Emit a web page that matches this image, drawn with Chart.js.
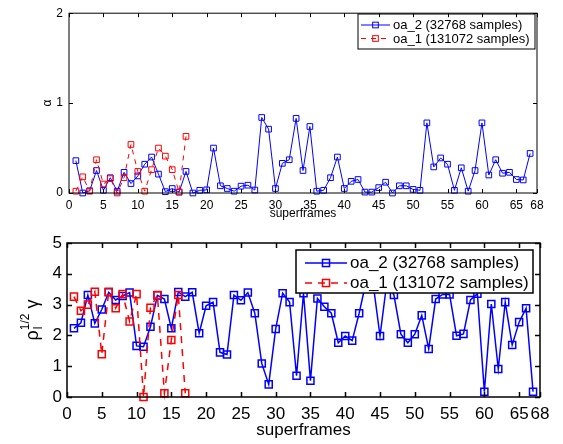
<!DOCTYPE html>
<html>
<head>
<meta charset="utf-8">
<script src="https://cdn.jsdelivr.net/npm/chart.js@4.4.1/dist/chart.umd.min.js"></script>
<style>
  body { margin: 0; background: #fff; }
  canvas { position: absolute; left: 0; }
</style>
</head>
<body>
<canvas id="alphaChart" width="563" height="222" style="top:0px"></canvas>
<canvas id="gammaChart" width="563" height="222" style="top:222px"></canvas>
<script>
var xTicks = [0, 5, 10, 15, 20, 25, 30, 35, 40, 45, 50, 55, 60, 65, 68];
var alphaTicks = [0, 1, 2];
var gammaTicks = [0, 1, 2, 3, 4, 5];
var seriesNames = ['oa_2 (32768 samples)', 'oa_1 (131072 samples)'];

// alpha per superframe (superframe = index + 1)
var alphaOa2 = [0.36, 0.00, 0.025, 0.25, 0.03, 0.17, 0.02, 0.23, 0.105, 0.19,
                0.32, 0.40, 0.21, 0.015, 0.05, 0.01, 0.24, 0.00, 0.03, 0.035,
                0.50, 0.08, 0.05, 0.02, 0.076, 0.087, 0.033, 0.84, 0.71, 0.05,
                0.33, 0.37, 0.83, 0.25, 0.74, 0.02, 0.03, 0.17, 0.40, 0.05,
                0.13, 0.15, 0.01, 0.01, 0.06, 0.12, 0.00, 0.08, 0.08, 0.04,
                0.03, 0.78, 0.29, 0.39, 0.32, 0.03, 0.28, 0.02, 0.25, 0.78,
                0.20, 0.37, 0.22, 0.23, 0.15, 0.145, 0.44];
var alphaOa1 = [0.02, 0.18, 0.02, 0.37, 0.10, 0.16, 0.00, 0.17, 0.54, 0.24,
                0.02, 0.26, 0.50, 0.41, 0.26, 0.01, 0.63];

// rho_l^(1/2) gamma per superframe
var gammaOa2 = [2.23, 2.41, 3.31, 2.39, 2.84, 3.40, 3.15, 3.28, 3.39, 1.66,
                1.63, 2.28, 3.30, 3.18, 2.23, 3.41, 3.26, 3.40, 2.07, 2.96,
                3.08, 1.45, 1.38, 3.31, 3.14, 3.39, 2.72, 1.09, 0.41, 2.21,
                3.37, 3.08, 0.69, 3.37, 0.53, 3.20, 2.93, 2.72, 1.76, 1.98,
                1.83, 2.72, 3.75, 3.70, 1.98, 3.75, 3.31, 2.04, 1.76, 2.04,
                2.65, 1.56, 3.18, 3.33, 3.33, 1.99, 2.05, 3.15, 3.35, 0.17,
                3.02, 0.91, 3.08, 1.69, 2.43, 2.88, 0.17];
var gammaOa1 = [3.26, 2.80, 3.00, 3.42, 1.39, 3.42, 2.88, 3.34, 2.45, 3.34,
                0.00, 2.90, 3.31, 0.12, 1.85, 3.31, 0.12];

var FONT = "'Liberation Sans', Arial, Helvetica, sans-serif";

function points(values) {
  return values.map(function (v, i) { return { x: i + 1, y: v }; });
}

var framePlugin = {
  id: 'frame',
  afterDraw: function (chart, args, opts) {
    var ctx = chart.ctx, a = chart.chartArea;
    var xs = chart.scales.x, ys = chart.scales.y;
    var len = opts.tickLength;
    ctx.save();
    ctx.strokeStyle = '#000';
    ctx.lineWidth = opts.lineWidth;
    ctx.beginPath();
    xs.ticks.forEach(function (t) {
      var px = Math.round(xs.getPixelForValue(t.value)) + 0.5;
      ctx.moveTo(px, a.bottom); ctx.lineTo(px, a.bottom - len);
      ctx.moveTo(px, a.top); ctx.lineTo(px, a.top + len);
    });
    ys.ticks.forEach(function (t) {
      var py = Math.round(ys.getPixelForValue(t.value)) + 0.5;
      ctx.moveTo(a.left, py); ctx.lineTo(a.left + len, py);
      ctx.moveTo(a.right, py); ctx.lineTo(a.right - len, py);
    });
    ctx.stroke();
    ctx.lineWidth = opts.boxWidth;
    ctx.strokeRect(a.left, a.top, a.right - a.left, a.bottom - a.top);
    ctx.restore();
  }
};

var boxLegendPlugin = {
  id: 'boxLegend',
  afterDatasetsDraw: function (chart, args, opts) {
    var ctx = chart.ctx;
    ctx.save();
    ctx.fillStyle = '#fff';
    ctx.fillRect(opts.left, opts.top, opts.width, opts.height);
    ctx.strokeStyle = '#000';
    ctx.lineWidth = opts.borderWidth;
    ctx.strokeRect(opts.left, opts.top, opts.width, opts.height);
    ctx.font = opts.fontSize + 'px ' + FONT;
    ctx.textBaseline = 'middle';
    [0, 1].forEach(function (di, row) {
      var ds = chart.data.datasets[di];
      var y = opts.top + opts.rowStart + row * opts.rowGap;
      ctx.strokeStyle = ds.borderColor;
      ctx.lineWidth = ds.borderWidth;
      ctx.setLineDash(ds.borderDash || []);
      ctx.beginPath();
      ctx.moveTo(opts.lineX0, y); ctx.lineTo(opts.lineX1, y);
      ctx.stroke();
      ctx.setLineDash([]);
      var s = Math.SQRT1_2 * ds.pointRadius;
      var cx = (opts.lineX0 + opts.lineX1) / 2;
      ctx.lineWidth = ds.pointBorderWidth;
      ctx.strokeRect(cx - s, y - s, 2 * s, 2 * s);
      ctx.fillStyle = '#000';
      ctx.fillText(ds.label, opts.textX, y + 0.5);
    });
    ctx.restore();
  }
};

var gammaTitlePlugin = {
  id: 'gammaTitle',
  afterDraw: function (chart, args, opts) {
    var ctx = chart.ctx, a = chart.chartArea;
    var big = opts.size + 'px ' + FONT, small = opts.smallSize + 'px ' + FONT;
    ctx.save();
    ctx.fillStyle = '#000';
    ctx.font = big;
    var wRho = ctx.measureText('\u03c1').width;
    var wGam = ctx.measureText('\u03b3').width;
    var wSpace = ctx.measureText(' ').width;
    ctx.font = small;
    var wSup = ctx.measureText('1/2').width;
    var total = wRho + wSup + wSpace + wGam;
    ctx.translate(opts.x, (a.top + a.bottom) / 2);
    ctx.rotate(-Math.PI / 2);
    ctx.textBaseline = 'alphabetic';
    var x = -total / 2;
    ctx.font = big;
    ctx.fillText('\u03c1', x, 0);
    ctx.font = small;
    ctx.fillText('l', x + wRho + 1, opts.subShift);
    ctx.fillText('1/2', x + wRho, -opts.supShift);
    ctx.font = big;
    ctx.fillText('\u03b3', x + wRho + wSup + wSpace, 0);
    ctx.restore();
  }
};

function makeOptions(cfg) {
  return {
    responsive: false,
    animation: false,
    events: [],
    layout: { padding: { left: 0, top: cfg.top, right: cfg.right, bottom: 0 } },
    plugins: {
      legend: { display: false },
      tooltip: { enabled: false },
      frame: { tickLength: cfg.tickLength, lineWidth: cfg.frameWidth, boxWidth: cfg.frameWidth },
      boxLegend: cfg.legend,
      gammaTitle: cfg.gammaTitle || {}
    },
    scales: {
      x: {
        type: 'linear',
        min: 0,
        max: 68,
        afterBuildTicks: function (s) { s.ticks = xTicks.map(function (v) { return { value: v }; }); },
        afterFit: function (s) { s.height = cfg.xHeight; },
        grid: { display: false, drawTicks: false },
        border: { display: false },
        ticks: { color: '#000', padding: cfg.xPad, maxRotation: 0, autoSkip: false,
                 font: { family: FONT, size: cfg.tickSize } },
        title: { display: true, text: 'superframes', color: '#000',
                 font: { family: FONT, size: cfg.titleSize }, padding: { top: 0, bottom: cfg.titlePad } }
      },
      y: {
        min: 0,
        max: cfg.yMax,
        afterBuildTicks: function (s) { s.ticks = cfg.yTicks.map(function (v) { return { value: v }; }); },
        afterFit: function (s) { s.width = cfg.yWidth; },
        grid: { display: false, drawTicks: false },
        border: { display: false },
        ticks: { color: '#000', padding: cfg.yPad, font: { family: FONT, size: cfg.tickSize } },
        title: cfg.yTitle
      }
    }
  };
}

function makeDatasets(blue, red, w, r, dash) {
  return [{
    label: seriesNames[0],
    data: points(blue),
    borderColor: '#0000ff',
    borderWidth: w,
    pointStyle: 'rect',
    pointRadius: r,
    pointHoverRadius: r,
    pointBorderWidth: w,
    pointBackgroundColor: 'rgba(0,0,0,0)',
    pointBorderColor: '#0000ff',
    clip: false,
    order: 2
  }, {
    label: seriesNames[1],
    data: points(red),
    borderColor: '#ff0000',
    borderWidth: w,
    borderDash: dash,
    pointStyle: 'rect',
    pointRadius: r,
    pointHoverRadius: r,
    pointBorderWidth: w,
    pointBackgroundColor: 'rgba(0,0,0,0)',
    pointBorderColor: '#ff0000',
    clip: false,
    order: 1
  }];
}

var alphaChart = new Chart(document.getElementById('alphaChart').getContext('2d'), {
  type: 'line',
  data: { datasets: makeDatasets(alphaOa2, alphaOa1, 1, 4, [5, 5]) },
  options: makeOptions({
    top: 9, right: 26, xHeight: 29, yWidth: 69, xPad: 5, yPad: 6,
    tickSize: 12, titleSize: 12, titlePad: 1, yMax: 2, yTicks: alphaTicks,
    tickLength: 4, frameWidth: 1,
    yTitle: { display: true, text: '\u03b1', color: '#000',
              font: { family: FONT, size: 12 }, padding: { top: 40, bottom: 0 } },
    legend: { left: 358, top: 14, width: 177, height: 35, borderWidth: 1, fontSize: 13,
              rowStart: 11, rowGap: 13.5, lineX0: 361, lineX1: 390, textX: 393 }
  }),
  plugins: [boxLegendPlugin, framePlugin]
});

var gammaChart = new Chart(document.getElementById('gammaChart').getContext('2d'), {
  type: 'line',
  data: { datasets: makeDatasets(gammaOa2, gammaOa1, 1.5, 5, [7, 6]) },
  options: makeOptions({
    top: 21, right: 23, xHeight: 47, yWidth: 67, xPad: 7, yPad: 5,
    tickSize: 17, titleSize: 17, titlePad: 3, yMax: 5, yTicks: gammaTicks,
    tickLength: 5, frameWidth: 1.5,
    yTitle: { display: false },
    gammaTitle: { x: 38, size: 18, smallSize: 12, subShift: 4, supShift: 9 },
    legend: { left: 296, top: 28, width: 237, height: 43, borderWidth: 1.5, fontSize: 17,
              rowStart: 13, rowGap: 20, lineX0: 305, lineX1: 347, textX: 350 }
  }),
  plugins: [boxLegendPlugin, framePlugin, gammaTitlePlugin]
});
</script>
</body>
</html>
